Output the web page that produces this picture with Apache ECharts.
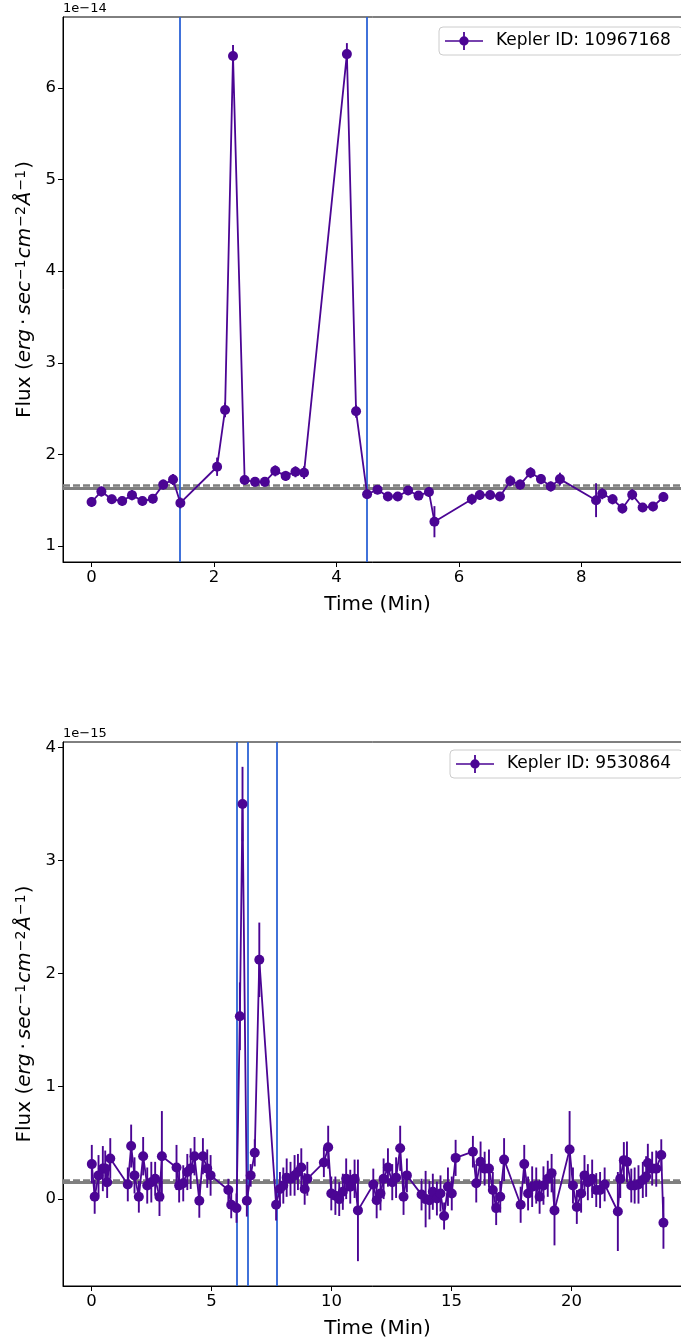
<!DOCTYPE html>
<html>
<head>
<meta charset="utf-8">
<script src="https://cdn.jsdelivr.net/npm/echarts@6/dist/echarts.min.js"></script>
<style>
  html, body { margin: 0; padding: 0; background: #fff; }
  #chart { width: 681px; height: 1339px; }
</style>
</head>
<body>
<div id="chart"></div>
<script>
// ---- Kepler ID 10967168 (flux in units of 1e-14) ----
const topName = 'Kepler ID: 10967168';
const topTime = [
  0, 0.16, 0.33, 0.5, 0.66, 0.83, 1.0, 1.17, 1.33, 1.45,
  2.05, 2.18, 2.31, 2.5, 2.67, 2.83, 3.0, 3.17, 3.33, 3.47,
  4.17, 4.32, 4.5, 4.67, 4.84, 5.0, 5.17, 5.34, 5.51, 5.6,
  6.21, 6.34, 6.51, 6.67, 6.84, 7.0, 7.17, 7.34, 7.5, 7.65,
  8.24, 8.34, 8.51, 8.67, 8.83, 9.0, 9.17, 9.34
];
const topFlux = [
  1.48, 1.595, 1.51, 1.49, 1.555, 1.49, 1.515, 1.67, 1.725, 1.47,
  1.865, 2.485, 6.35, 1.72, 1.70, 1.70, 1.82, 1.765, 1.81, 1.80,
  6.37, 2.47, 1.565, 1.615, 1.54, 1.54, 1.605, 1.55, 1.59, 1.265,
  1.51, 1.557, 1.557, 1.54, 1.71, 1.67, 1.80, 1.73, 1.65, 1.73,
  1.50, 1.57, 1.51, 1.41, 1.56, 1.42, 1.43, 1.535
];
const topErr = [
  0.055, 0.055, 0.05, 0.05, 0.055, 0.05, 0.05, 0.055, 0.06, 0.06,
  0.1, 0.08, 0.12, 0.05, 0.05, 0.05, 0.06, 0.055, 0.06, 0.07,
  0.12, 0.07, 0.05, 0.05, 0.05, 0.05, 0.05, 0.05, 0.055, 0.17,
  0.06, 0.055, 0.05, 0.05, 0.06, 0.055, 0.06, 0.055, 0.055, 0.07,
  0.185, 0.06, 0.055, 0.055, 0.06, 0.05, 0.05, 0.055
];
const topEventBounds = [1.437, 4.49];
const topLevelSolid = 1.633;
const topLevelDashed = 1.657;
const topTicksX = [0, 2, 4, 6, 8];
const topTicksY = [1, 2, 3, 4, 5, 6];

// ---- Kepler ID 9530864 (flux in units of 1e-15) ----
const bottomName = 'Kepler ID: 9530864';
const bottomTime = [
  0.01, 0.13, 0.29, 0.47, 0.57, 0.65, 0.78, 1.51, 1.65, 1.79,
  1.97, 2.15, 2.32, 2.49, 2.65, 2.83, 2.93, 3.54, 3.65, 3.82,
  3.99, 4.13, 4.29, 4.49, 4.64, 4.82, 4.96, 5.70, 5.82, 6.04,
  6.18, 6.29, 6.47, 6.63, 6.80, 6.99, 7.69, 7.85, 7.99, 8.13,
  8.29, 8.46, 8.60, 8.74, 8.88, 8.99, 9.68, 9.86, 9.99, 10.16,
  10.32, 10.47, 10.61, 10.78, 10.96, 11.10, 11.74, 11.88, 12.04, 12.17,
  12.35, 12.53, 12.69, 12.86, 13.0, 13.14, 13.75, 13.92, 14.08, 14.22,
  14.39, 14.54, 14.69, 14.85, 15.01, 15.17, 15.89, 16.03, 16.21, 16.38,
  16.56, 16.72, 16.86, 17.03, 17.19, 17.88, 18.03, 18.19, 18.36, 18.53,
  18.67, 18.83, 19.01, 19.17, 19.29, 19.92, 20.06, 20.22, 20.40, 20.54,
  20.68, 20.86, 21.03, 21.19, 21.38, 21.93, 22.03, 22.18, 22.31, 22.49,
  22.63, 22.79, 22.97, 23.11, 23.18, 23.36, 23.53, 23.74, 23.83
];
const bottomFlux = [
  0.31, 0.02, 0.21, 0.27, 0.27, 0.15, 0.36, 0.13, 0.47, 0.21,
  0.02, 0.38, 0.12, 0.15, 0.18, 0.02, 0.38, 0.28, 0.12, 0.14,
  0.24, 0.27, 0.38, -0.015, 0.38, 0.27, 0.21, 0.08, -0.05, -0.08,
  1.62, 3.50, -0.015, 0.21, 0.41, 2.12, -0.05, 0.09, 0.12, 0.19,
  0.18, 0.21, 0.24, 0.28, 0.09, 0.18, 0.325, 0.46, 0.05, 0.03,
  0.0, 0.065, 0.18, 0.11, 0.18, -0.10, 0.13, -0.01, 0.05, 0.18,
  0.28, 0.15, 0.19, 0.45, 0.02, 0.21, 0.04, 0.0, -0.01, 0.065,
  0.005, 0.05, -0.15, 0.11, 0.05, 0.365, 0.42, 0.14, 0.33, 0.27,
  0.27, 0.08, -0.08, 0.02, 0.35, -0.05, 0.31, 0.05, 0.11, 0.12,
  0.02, 0.12, 0.18, 0.23, -0.10, 0.44, 0.12, -0.07, 0.05, 0.21,
  0.15, 0.18, 0.08, 0.08, 0.13, -0.11, 0.18, 0.345, 0.33, 0.12,
  0.12, 0.13, 0.17, 0.20, 0.32, 0.27, 0.27, 0.39, -0.21
];
const bottomErr = [
  0.17, 0.15, 0.18, 0.2, 0.16, 0.14, 0.18, 0.15, 0.19, 0.16,
  0.14, 0.17, 0.16, 0.18, 0.15, 0.17, 0.4, 0.2, 0.15, 0.16,
  0.16, 0.18, 0.17, 0.15, 0.16, 0.17, 0.18, 0.1, 0.12, 0.13,
  0.3, 0.33, 0.14, 0.1, 0.12, 0.33, 0.14, 0.15, 0.16, 0.17,
  0.15, 0.18, 0.16, 0.17, 0.14, 0.15, 0.13, 0.19, 0.15, 0.17,
  0.15, 0.16, 0.18, 0.15, 0.17, 0.45, 0.14, 0.16, 0.15, 0.18,
  0.17, 0.16, 0.18, 0.2, 0.16, 0.15, 0.14, 0.25, 0.17, 0.16,
  0.15, 0.16, 0.12, 0.17, 0.15, 0.16, 0.14, 0.17, 0.18, 0.15,
  0.17, 0.16, 0.15, 0.14, 0.19, 0.16, 0.17, 0.15, 0.18, 0.16,
  0.15, 0.17, 0.16, 0.17, 0.31, 0.34, 0.16, 0.15, 0.17, 0.18,
  0.16, 0.17, 0.15, 0.16, 0.15, 0.35, 0.17, 0.16, 0.18, 0.15,
  0.16, 0.17, 0.16, 0.18, 0.17, 0.15, 0.16, 0.14, 0.23
];
const bottomEventBounds = [6.04, 6.5, 7.71];
const bottomLevelSolid = 0.155;
const bottomLevelDashed = 0.173;
const bottomTicksX = [0, 5, 10, 15, 20];
const bottomTicksY = [0, 1, 2, 3, 4];

const FONT = 'DejaVu Sans';
const DATA_COLOR = '#4b0594';
const EVENT_COLOR = '#2c63d6';
const LEVEL_COLOR = '#7f7f7f';

// errorbar glyph for the legend: horizontal line, vertical bar, dot
const errorbarIcon = 'path://M0,9.2H38V10.8H0Z M18.1,1H19.9V19H18.1Z M14.3,10A4.7,4.7,0,1,1,23.7,10A4.7,4.7,0,1,1,14.3,10Z';

function zip3(t, v, e) { return t.map((x, i) => [x, v[i], e[i]]); }

function errorBars(renderWidth) {
  return function (params, api) {
    const x = api.value(0), y = api.value(1), e = api.value(2);
    const lo = api.coord([x, y - e]);
    const hi = api.coord([x, y + e]);
    return {
      type: 'line',
      shape: { x1: lo[0], y1: lo[1], x2: hi[0], y2: hi[1] },
      style: { stroke: DATA_COLOR, lineWidth: renderWidth }
    };
  };
}

function xAxisOf(gridIndex, min, max, ticks) {
  return {
    type: 'value', gridIndex, min, max,
    name: 'Time (Min)', nameLocation: 'middle', nameGap: 33,
    nameTextStyle: { fontFamily: FONT, fontSize: 20, color: '#000' },
    axisLine: { show: true, onZero: false, lineStyle: { color: '#000', width: 1 } },
    axisTick: { show: true, length: 5, customValues: ticks, lineStyle: { color: '#000' } },
    axisLabel: { customValues: ticks, fontFamily: FONT, fontSize: 16.5, color: '#000', margin: 7 },
    splitLine: { show: false }
  };
}

function yAxisOf(gridIndex, min, max, ticks) {
  const base = { fontFamily: FONT, fontSize: 20, color: '#000', verticalAlign: 'bottom' };
  const sup = { fontFamily: FONT, fontSize: 14, color: '#000', verticalAlign: 'top', padding: [0, 1, 0, 1] };
  return {
    type: 'value', gridIndex, min, max,
    name: '{n|Flux (}{i|erg}{n|\u2009·\u2009}{i|sec}{s|−1}{i|cm}{s|−2}{i|Å}{s|−1}{n|)}',
    nameLocation: 'middle', nameRotate: 90, nameGap: 20,
    nameTextStyle: {
      fontFamily: FONT, fontSize: 20, color: '#000',
      rich: {
        n: base,
        i: Object.assign({}, base, { fontStyle: 'italic' }),
        s: sup
      }
    },
    axisLine: { show: true, onZero: false, lineStyle: { color: '#000', width: 1 } },
    axisTick: { show: true, length: 5, customValues: ticks, lineStyle: { color: '#000' } },
    axisLabel: { customValues: ticks, fontFamily: FONT, fontSize: 16.5, color: '#000', margin: 7 },
    splitLine: { show: false }
  };
}

function referenceLines(events, solid, dashed) {
  const data = [
    { yAxis: solid, lineStyle: { color: LEVEL_COLOR, width: 3, type: 'solid' } },
    { yAxis: dashed, lineStyle: { color: LEVEL_COLOR, width: 2.5, type: [7, 3] } }
  ];
  events.forEach(x => data.push({ xAxis: x, lineStyle: { color: EVENT_COLOR, width: 1.8, type: 'solid' } }));
  return {
    silent: true, symbol: 'none', z: 1, animation: false,
    label: { show: false }, emphasis: { disabled: true },
    data
  };
}

function legendOf(name, left, top) {
  return {
    left, top, orient: 'horizontal', selectedMode: false,
    data: [{ name, icon: errorbarIcon }],
    itemWidth: 38, itemHeight: 20,
    backgroundColor: 'rgba(255,255,255,0.85)',
    borderColor: '#cccccc', borderWidth: 1, borderRadius: 4,
    padding: [5, 12, 5, 6],
    textStyle: { fontFamily: FONT, fontSize: 17, color: '#000', padding: [0, 0, 0, 8] }
  };
}

const chart = echarts.init(document.getElementById('chart'), null, { renderer: 'canvas' });

chart.setOption({
  animation: false,
  backgroundColor: '#fff',
  title: [
    { text: '1e−14', left: 63, top: 2, padding: 0,
      textStyle: { fontFamily: FONT, fontSize: 13, fontWeight: 'normal', color: '#000' } },
    { text: '1e−15', left: 63, top: 727, padding: 0,
      textStyle: { fontFamily: FONT, fontSize: 13, fontWeight: 'normal', color: '#000' } }
  ],
  legend: [
    legendOf(topName, 439, 27),
    legendOf(bottomName, 450, 750)
  ],
  grid: [
    { left: 63, top: 17, width: 629, height: 545, show: true, borderColor: '#000', borderWidth: 1,
      containLabel: false, outerBoundsMode: 'none' },
    { left: 63, top: 742, width: 629, height: 544, show: true, borderColor: '#000', borderWidth: 1,
      containLabel: false, outerBoundsMode: 'none' }
  ],
  xAxis: [
    xAxisOf(0, -0.467, 9.807, topTicksX),
    xAxisOf(1, -1.19, 25.02, bottomTicksX)
  ],
  yAxis: [
    yAxisOf(0, 0.825, 6.775, topTicksY),
    yAxisOf(1, -0.77, 4.05, bottomTicksY)
  ],
  series: [
    {
      name: 'top-errors', type: 'custom', xAxisIndex: 0, yAxisIndex: 0,
      data: zip3(topTime, topFlux, topErr), encode: { x: 0, y: 1 },
      renderItem: errorBars(1.9), z: 3, silent: true, clip: true
    },
    {
      name: topName, type: 'line', xAxisIndex: 0, yAxisIndex: 0,
      data: topTime.map((t, i) => [t, topFlux[i]]),
      symbol: 'circle', symbolSize: 10, showAllSymbol: true,
      itemStyle: { color: DATA_COLOR },
      lineStyle: { color: DATA_COLOR, width: 1.8 },
      z: 4, silent: true,
      markLine: referenceLines(topEventBounds, topLevelSolid, topLevelDashed)
    },
    {
      name: 'bottom-errors', type: 'custom', xAxisIndex: 1, yAxisIndex: 1,
      data: zip3(bottomTime, bottomFlux, bottomErr), encode: { x: 0, y: 1 },
      renderItem: errorBars(1.9), z: 3, silent: true, clip: true
    },
    {
      name: bottomName, type: 'line', xAxisIndex: 1, yAxisIndex: 1,
      data: bottomTime.map((t, i) => [t, bottomFlux[i]]),
      symbol: 'circle', symbolSize: 10, showAllSymbol: true,
      itemStyle: { color: DATA_COLOR },
      lineStyle: { color: DATA_COLOR, width: 1.8 },
      z: 4, silent: true,
      markLine: referenceLines(bottomEventBounds, bottomLevelSolid, bottomLevelDashed)
    }
  ]
});
</script>
</body>
</html>
